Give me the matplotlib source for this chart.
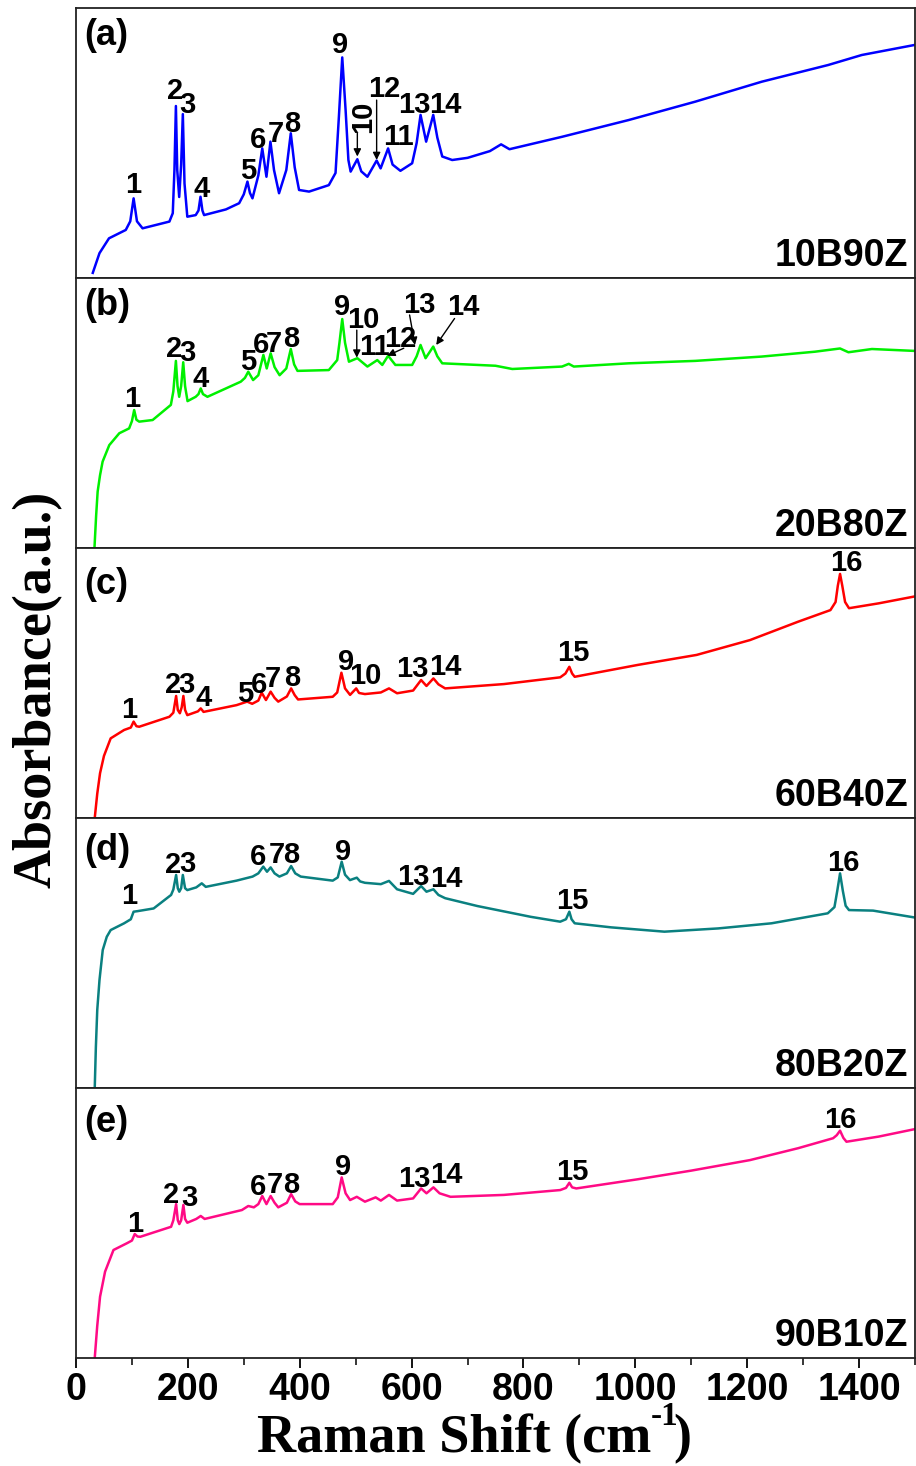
# Raman spectra of the xB(100-x)Z series, five stacked panels on one x axis.
import matplotlib
matplotlib.use("Agg")
import matplotlib.pyplot as plt
import numpy as np
from matplotlib import font_manager
from matplotlib.ticker import MultipleLocator

# --- data (x = Raman shift cm-1, y = % of panel height) ---
spec_a = np.array([
    (30, 1.9), (42, 9.2), (59, 14.7), (89, 17.8), (97, 21), (103, 29.5), (109, 21),
    (119, 18.4), (167, 20.9), (173, 24), (176, 40), (178.6, 63.7), (181, 40),
    (184.5, 30), (188, 42), (191, 60.7), (194, 35), (199, 22.7), (214, 23.3),
    (219, 25), (222.6, 30.1), (226, 25), (229, 23.3), (268, 25.4), (291.7, 27.7),
    (300, 31), (306.5, 35.7), (311, 31.5), (315.5, 29.5), (326, 38), (333, 48),
    (340.5, 37.5), (347.6, 50.5), (354, 40), (363, 31.4), (376, 40), (384, 53.6),
    (391, 41), (398.8, 32.6), (416.7, 32), (452, 34.4), (464, 38.9), (470, 59.7),
    (476, 81.7), (482, 62.2), (487, 43.7), (491, 39.4), (503, 44), (510, 39.5),
    (521, 37.5), (537.5, 43.5), (544.6, 40.6), (558, 48), (566, 42), (580, 39.7),
    (601, 42.5), (609, 50), (616, 60.4), (626, 50.5), (638.7, 60.4), (646, 52),
    (654.8, 45), (672.6, 43.7), (700, 44.5), (740, 47), (760, 49.5), (775, 47.7),
    (869, 52.3), (988, 58.5), (1107, 65.3), (1226, 72.7), (1345, 78.9),
    (1405, 82.6), (1499, 86.3),
])
spec_b = np.array([
    (33, 0), (36, 12), (38.7, 20.9), (43, 27), (47.6, 32), (59.5, 38.1), (77.4, 42.5),
    (95, 44.3), (100, 47), (104, 51.1), (108, 47.5), (113, 46.8), (137, 47.4),
    (169.6, 53), (174, 58), (178.6, 69.3), (181.5, 60), (184.5, 56), (188, 60),
    (191.7, 68.8), (195, 60), (199.4, 54.4), (214, 56), (219, 57), (223, 59.1),
    (227, 57), (235, 56), (268, 59.1), (294.6, 61.6), (302, 63), (308, 65.3),
    (316.6, 62.2), (326, 64), (335, 71.5), (341, 66.5), (348, 72.1), (355, 67),
    (364, 64), (376, 66.5), (384, 73.7), (390, 68), (396, 65.6), (452, 65.9),
    (467, 69.6), (471, 76), (476, 84.8), (481, 76), (488, 69), (503, 70.3),
    (521, 67.2), (538.7, 69.6), (547.6, 67.8), (558, 71.2), (571, 67.8),
    (601, 67.8), (609, 71), (616, 75.2), (625, 70.3), (638.7, 74.6), (646, 71),
    (654.8, 68.4), (750, 67.5), (780, 66.3), (869, 67.2), (881, 68.2), (890, 67.2),
    (988, 68.4), (1107, 69.3), (1226, 70.9), (1321, 72.7), (1366, 73.9),
    (1381, 72.5), (1423, 73.7), (1499, 73),
])
spec_c = np.array([
    (33.5, 0), (38, 9), (43, 16.6), (50, 23), (62, 29.5), (86, 32.6), (98, 33.5),
    (103, 35.7), (108, 34), (113, 33.8), (167, 37.5), (174, 39), (179, 45.2),
    (182, 40), (185.7, 38.8), (189, 41), (192, 45.2), (195, 40), (199, 38.1),
    (218, 39.5), (223, 40.6), (228, 39.3), (287, 41.8), (306, 43.1), (315, 42.3),
    (326, 43.5), (332, 46.4), (339.6, 43.7), (348, 46.8), (355, 44.5),
    (361.6, 43.1), (377, 45), (384.6, 48), (391, 45.5), (397, 43.9), (459, 44.9),
    (467, 46.5), (474.5, 53.8), (481, 48), (490, 45.6), (501, 48), (506, 46.3),
    (516.6, 45.9), (545, 46.5), (559.6, 48), (574, 46.2), (602.7, 47.2),
    (617, 51.1), (626.6, 48.9), (639, 51.7), (648, 49.5), (660, 48), (765, 49.6),
    (865.7, 52.1), (875, 53.5), (882, 56), (887, 53.5), (891.6, 52.3),
    (1004.5, 56.7), (1109.6, 60.4), (1205, 65.9), (1291, 72.7), (1348.8, 77),
    (1358, 80), (1362, 86), (1366, 90.4), (1370, 86), (1375, 80), (1382, 77.7),
    (1435, 79.5), (1498, 82),
])
spec_d = np.array([
    (33.5, 0), (35.5, 15), (38, 28.9), (42, 40), (47.8, 51.1), (55, 56), (62, 58.5),
    (86, 61), (98, 62.5), (103, 65.3), (110, 65.5), (138.8, 66.5), (170, 71.5),
    (174, 73.5), (179, 78.9), (182, 74), (184.7, 72.7), (188, 74), (191, 78.9),
    (195, 74), (199, 73.3), (215, 74.3), (224.8, 75.8), (232, 74.5), (287, 76.8),
    (315.7, 78.3), (326, 79.5), (334.8, 82), (341.5, 80.1), (348, 81.7),
    (355, 79.5), (363.6, 78.3), (377, 79.5), (384.6, 82.2), (392, 79.5),
    (401.8, 78.3), (459, 76.8), (468, 78), (475, 83.8), (481, 79), (489.8, 77),
    (502, 77.9), (508, 76.5), (516.6, 76), (545, 75.5), (559.6, 76.7), (574, 73.6),
    (602.7, 71.9), (617, 74.8), (626.6, 72.7), (639, 73.6), (648, 71.5),
    (660, 70.3), (717.5, 67.4), (813, 63.4), (865.7, 61.6), (876, 62.5),
    (882, 65.3), (886, 62.5), (891.6, 61), (956.6, 59.5), (1052, 57.9),
    (1148, 59.1), (1243.5, 61), (1344, 64.7), (1356, 67), (1361, 73), (1366, 79.5),
    (1371, 73), (1376, 67.5), (1382, 65.9), (1425, 65.7), (1498, 63.2),
])
spec_e = np.array([
    (33.5, 0), (38, 12), (43, 22.7), (52, 32), (67, 40), (91, 42.5), (100, 43.5),
    (105, 45.9), (110, 45), (115, 44.9), (170, 48.6), (174, 51), (179, 57),
    (182, 51), (184.7, 49.6), (188, 51), (192, 56.7), (195, 51.5), (199, 50.1),
    (215, 51.5), (223, 52.6), (230, 51.5), (296.6, 54.8), (308, 56.3), (318, 55.8),
    (326, 57), (333, 60), (340.5, 57), (348, 60), (355, 57.5), (361.6, 55.8),
    (377, 57.5), (384.6, 60.7), (392, 58), (399.8, 57), (459, 57), (468, 59.5),
    (475, 66.9), (482, 61), (490, 58.5), (502, 59.7), (516.6, 57.9), (535.7, 59.5),
    (545, 58.3), (559.6, 60.4), (574, 58.3), (602.7, 59.1), (617, 62.8),
    (626.6, 61), (639, 63.2), (650, 61), (669.6, 59.7), (765, 60.4), (865.7, 62.2),
    (876, 63), (882, 64.9), (887, 63.2), (894.4, 62.8), (1004.5, 66.2),
    (1100, 69.4), (1205, 73.3), (1291, 77.7), (1353.6, 81.4), (1360, 82.5),
    (1366, 84.2), (1372, 81.5), (1377.5, 80.1), (1435, 82), (1498, 84.7),
])

spectra = [spec_a, spec_b, spec_c, spec_d, spec_e]
samples = ["10B90Z", "20B80Z", "60B40Z", "80B20Z", "90B10Z"]
letters = ["(a)", "(b)", "(c)", "(d)", "(e)"]
colors = ["#0000ff", "#00f000", "#ff0000", "#0a8080", "#ff0a85"]

# peak numbers: (text, x, baseline y)
peaks_a = [("1", 102, 31.6), ("2", 177, 66.2), ("3", 199, 61), ("4", 225, 30.1),
           ("5", 308, 36.7), ("6", 326, 48.3), ("7", 357, 50.5), ("8", 386, 54.2),
           ("9", 472, 83.2), ("12", 550.6, 67.1), ("11", 575.6, 49.3),
           ("13", 605, 61), ("14", 661, 61)]
peaks_b = [("1", 101, 52.3), ("2", 176, 70.9), ("3", 199, 69.3), ("4", 223, 59.7),
           ("5", 308, 65.9), ("6", 330, 72.1), ("7", 354, 72.5), ("8", 384, 74.6),
           ("9", 476, 86.3), ("10", 513, 81.4), ("11", 532.7, 71.5),
           ("12", 580, 74.6), ("13", 613, 86.9), ("14", 691.7, 86.3)]
peaks_c = [("1", 95.7, 36.9), ("2", 174, 46.2), ("3", 198, 46.2), ("4", 227.7, 41.6),
           ("5", 302, 43.1), ("6", 328, 46.2), ("7", 352, 48.6), ("8", 386, 48.9),
           ("9", 483, 54.8), ("10", 518, 49.6), ("13", 600.7, 52.3),
           ("14", 660, 53), ("15", 889.6, 58.3), ("16", 1377.5, 91.6)]
peaks_d = [("1", 95.7, 68.1), ("2", 174, 79.7), ("3", 199, 80.1), ("6", 325, 82.6),
           ("7", 358.7, 83.2), ("8", 385.5, 83.5), ("9", 478, 84.4),
           ("13", 602.7, 75.2), ("14", 662, 74.3), ("15", 887.7, 66.2),
           ("16", 1372.6, 80.5)]
peaks_e = [("1", 105, 46.8), ("2", 170, 57.5), ("3", 203, 56.3), ("6", 325, 60.4),
           ("7", 356, 61), ("8", 385.5, 61.2), ("9", 478, 67.8), ("13", 605.5, 63.4),
           ("14", 662, 64.7), ("15", 887.7, 65.9), ("16", 1366, 85)]
peak_labels = [peaks_a, peaks_b, peaks_c, peaks_d, peaks_e]

# arrows: (tail, head)
arrows_a = [((503, 53.6), (503, 45)), ((537.5, 65.9), (537.5, 43.7))]
arrows_b = [((502, 80.7), (502, 70.5)), ((586, 74), (556.6, 71.2)),
            ((596.4, 86.3), (606, 75.2)), ((676.8, 85), (644, 75.2))]
panel_arrows = [arrows_a, arrows_b, [], [], []]

letter_top = [0.963, 0.963, 0.93, 0.944, 0.937]

# --- fonts ---
names = {f.name for f in font_manager.fontManager.ttflist}
narrow = "Liberation Sans Narrow" in names
cond_family = ["Liberation Sans Narrow", "Liberation Sans"] if narrow else ["Liberation Sans"]
tick_size = 31 if narrow else 27
name_size = 30 if narrow else 27
plt.rcParams["font.family"] = ["Liberation Sans", "DejaVu Sans"]
plt.rcParams["font.weight"] = "bold"

W, H = 916, 1466
fig = plt.figure(figsize=(W / 100, H / 100), dpi=100)
axes = fig.subplots(5, 1, sharex=True)
fig.subplots_adjust(left=76 / W, right=915 / W, top=1 - 8 / H, bottom=1 - 1358 / H,
                    hspace=0)

for i, ax in enumerate(axes):
    spec = spectra[i]
    ax.plot(spec[:, 0], spec[:, 1], color=colors[i], lw=1.8)
    ax.set_xlim(0, 1500)
    ax.set_ylim(0, 100)
    ax.set_yticks([])
    for sp in ax.spines.values():
        sp.set_linewidth(1.3)
        sp.set_color("#222222")

    for txt, x, y in peak_labels[i]:
        ax.text(x, y, txt, ha="center", va="baseline", fontsize=21,
                fontweight="bold", color="black")
    for tail, head in panel_arrows[i]:
        ax.annotate("", xy=head, xytext=tail,
                    arrowprops=dict(arrowstyle="-|>", color="black", lw=1.0,
                                    mutation_scale=11, shrinkA=0, shrinkB=0))
    if i == 0:
        ax.text(513, 59.7, "10", rotation=90, ha="center", va="center",
                fontsize=21, fontweight="bold")

    ax.text(0.0095, letter_top[i], letters[i], transform=ax.transAxes,
            ha="left", va="top", fontsize=26, fontweight="bold")
    ax.text(0.9917, 0.045, samples[i], transform=ax.transAxes, ha="right",
            va="baseline", fontsize=name_size, fontweight="bold", family=cond_family)

    if i < 4:
        ax.tick_params(axis="x", which="both", bottom=False, labelbottom=False)

bottom_ax = axes[-1]
bottom_ax.xaxis.set_major_locator(MultipleLocator(200))
bottom_ax.xaxis.set_minor_locator(MultipleLocator(100))
bottom_ax.tick_params(axis="x", which="major", direction="out", length=7, width=1.3,
                      pad=3, labelsize=tick_size)
bottom_ax.tick_params(axis="x", which="minor", direction="out", length=5, width=1.1)
for lab in bottom_ax.get_xticklabels():
    lab.set_family(cond_family)
    lab.set_fontweight("bold")

serif = dict(family="Liberation Serif", fontweight="bold")
fig.text(38 / W, 1 - 689 / H, "Absorbance(a.u.)", rotation=90, ha="center",
         va="center", fontsize=39, **serif)

# x label built from three pieces so the superscript keeps a plain hyphen
renderer = fig.canvas.get_renderer()
base_y = 1 - 1452 / H
main = fig.text(257 / W, base_y, "Raman Shift (cm", ha="left", va="baseline",
                fontsize=39, **serif)
bb = main.get_window_extent(renderer)
sup = fig.text((bb.x1 - 1) / W, base_y + 27 / H, "-1", ha="left", va="baseline",
               fontsize=24, **serif)
bb2 = sup.get_window_extent(renderer)
fig.text((bb2.x1 - 5) / W, base_y, ")", ha="left", va="baseline", fontsize=39, **serif)

fig.savefig("out.png", dpi=100)
